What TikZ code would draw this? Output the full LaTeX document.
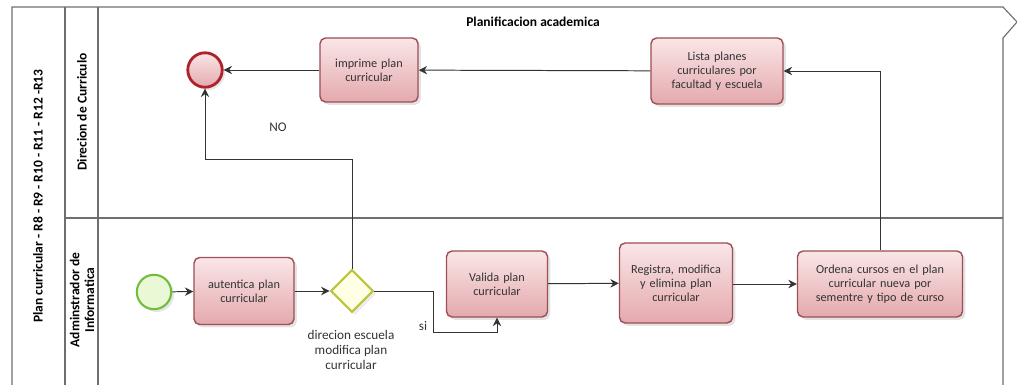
\documentclass[tikz,border=0pt]{standalone}
\usepackage{fontspec}
\setmainfont{Carlito}
\usetikzlibrary{arrows.meta,shapes.geometric,shadows,calc}
\definecolor{laneline}{HTML}{6E6E6E}
\definecolor{taskborder}{HTML}{9C4F54}
\definecolor{tasktop}{HTML}{FAE6E7}
\definecolor{taskbottom}{HTML}{E4A9AD}
\definecolor{endborder}{HTML}{B0222A}
\definecolor{startborder}{HTML}{72BE3C}
\definecolor{startfill}{HTML}{EAF8D6}
\definecolor{gwborder}{HTML}{B9C63C}
\definecolor{gwfill}{HTML}{FFFFE6}
\definecolor{flowline}{HTML}{333333}
\begin{document}
\begin{tikzpicture}[x=0.025cm,y=-0.025cm,
  lane/.style={draw=laneline,line width=0.8pt},
  task/.style={draw=taskborder,line width=1pt,rounded corners=4pt,
    top color=tasktop,bottom color=taskbottom,
    drop shadow={shadow xshift=2pt,shadow yshift=-2pt,opacity=0.22},
    align=center,font=\fontsize{8.7}{10}\selectfont,text=black!80,inner sep=2pt},
  flow/.style={draw=flowline,line width=0.7pt,-{Stealth[length=6pt,width=6pt,inset=2pt]}},
  lanelabel/.style={font=\fontsize{9.6}{10.5}\selectfont\bfseries,align=center,rotate=90},
  note/.style={font=\fontsize{9.4}{10.8}\selectfont,text=black!80,align=center}]
\useasboundingbox (0,0) rectangle (1017,385);
% pool and lanes
\draw[lane] (12,385) -- (12,7) -- (1003,7) -- (1017,22) -- (1003,38) -- (1003,385);
\draw[lane] (65,7) -- (65,385);
\draw[lane] (98,7) -- (98,385);
\draw[lane] (65,218) -- (1003,218);
\node[font=\fontsize{9.6}{11}\selectfont\bfseries] (title) at (533,22) {Planificacion academica};
\node[lanelabel] (pool) at (38,196) {Plan curricular - R8 - R9 - R10 - R11 - R12 -R13};
\node[lanelabel] (lane1) at (82,112) {Direcion de Curriculo};
\node[lanelabel] (lane2) at (82,300) {Adminstrador de\\Informatica};
% events
\node[circle,minimum size=0.86cm,draw=endborder,line width=2pt,inner sep=0pt,
  top color=tasktop,bottom color=taskbottom,
  drop shadow={shadow xshift=2pt,shadow yshift=-2pt,opacity=0.2}] (endev) at (205,70) {};
\node[circle,minimum size=0.86cm,draw=startborder,line width=1.5pt,inner sep=0pt,fill=startfill,
  drop shadow={shadow xshift=2pt,shadow yshift=-2pt,opacity=0.2}] (start) at (154,292) {};
% tasks
\node[task,minimum width=2.45cm,minimum height=1.6cm,text width=2.2cm] (imprime) at (369,70) {imprime plan\\curricular};
\node[task,minimum width=3.3cm,minimum height=1.65cm,text width=3cm] (lista) at (717,71) {Lista planes\\curriculares por\\facultad y escuela};
\node[task,minimum width=2.5cm,minimum height=1.675cm,text width=2.2cm] (autentica) at (244,291) {autentica plan\\curricular};
\node[task,minimum width=2.525cm,minimum height=1.65cm,text width=2.2cm] (valida) at (497,284) {Valida plan\\curricular};
\node[task,minimum width=2.825cm,minimum height=2cm,text width=2.6cm] (registra) at (676,283) {Registra, modifica\\y elimina plan\\curricular};
\node[task,minimum width=4.125cm,minimum height=1.65cm,text width=3.9cm] (ordena) at (880,284) {Ordena cursos en el plan\\curricular nueva por\\sementre y tipo de curso};
% gateway
\node[diamond,draw=gwborder,line width=1.5pt,fill=gwfill,minimum width=1.07cm,minimum height=1.07cm,inner sep=0pt,
  drop shadow={shadow xshift=2pt,shadow yshift=-2pt,opacity=0.15}] (gw) at (352,291) {};
\node[note] (gwlabel) at (351,350) {direcion escuela\\modifica plan\\curricular};
\node[note] (nolabel) at (278,127) {NO};
\node[note] (silabel) at (423,326) {si};
% sequence flows
\draw[flow] (start) -- (autentica);
\draw[flow] (autentica) -- (gw);
\draw[flow] (gw.north) -- ++(0,-109) -| (endev.south);
\draw[flow] (gw.east) -- ++(59,0) -- ++(0,41) -| (valida.south);
\draw[flow] (valida) -- (registra);
\draw[flow] (registra.east |- ordena.west) -- (ordena.west);
\draw[flow] (ordena.north) |- (lista.east);
\draw[flow] (lista) -- (imprime);
\draw[flow] (imprime) -- (endev);
\end{tikzpicture}
\end{document}
